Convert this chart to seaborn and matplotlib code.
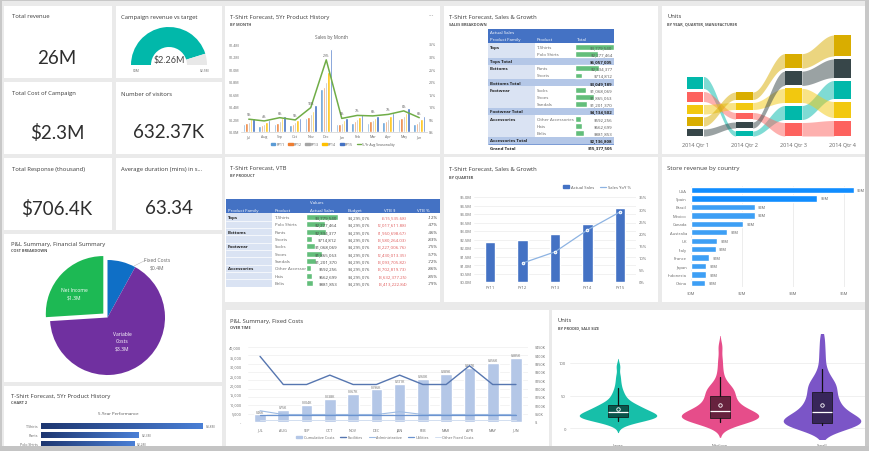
import numpy as np
import pandas as pd
import matplotlib
matplotlib.use('Agg')
import matplotlib.pyplot as plt
import seaborn as sns
from matplotlib.patches import Rectangle, Wedge, Patch
from matplotlib.lines import Line2D

# ======================= DATA =======================
kpi_titles = ['Total revenue', 'Total Cost of Campaign', 'Number of visitors',
              'Total Response (thousand)', 'Average duration (mins) in s...']
kpi_values = ['26M', '$2.3M', '632.37K', '$706.4K', '63.34']
gauge_title = 'Campaign revenue vs target'
gauge_value = 2.26
gauge_target = 2.5

pie_labels = ['Fixed Costs', 'Variable Costs', 'Net Income']
pie_values = [0.4, 3.3, 1.3]

perf_labels = ['T-Shirts', 'Pants', 'Polo Shirts']
perf_values = [3.8, 2.3, 2.2]

months = ['Jul', 'Aug', 'Sep', 'Oct', 'Nov', 'Dec', 'Jan', 'Feb', 'Mar', 'Apr', 'May', 'Jun']
fy_years = ['FY11', 'FY12', 'FY13', 'FY14', 'FY15']
sales_fy11 = [0.12, 0.10, 0.13, 0.11, 0.22, 0.68, 0.12, 0.15, 0.15, 0.16, 0.20, 0.13]
sales_fy12 = [0.14, 0.11, 0.15, 0.13, 0.24, 0.72, 0.13, 0.17, 0.17, 0.18, 0.22, 0.15]
sales_fy13 = [0.16, 0.13, 0.18, 0.16, 0.28, 0.79, 0.15, 0.20, 0.19, 0.21, 0.26, 0.17]
sales_fy14 = [0.20, 0.16, 0.22, 0.19, 0.33, 0.96, 0.19, 0.24, 0.23, 0.25, 0.30, 0.21]
sales_fy15 = [0.22, 0.19, 0.25, 0.22, 0.43, 1.32, 0.23, 0.28, 0.26, 0.30, 0.38, 0.25]
seasonality = [5.1, 4.4, 5.7, 4.8, 9.7, 28.7, 5.4, 6.6, 6.4, 7.0, 8.4, 5.7]

families = ['Tops', 'Bottoms', 'Footwear', 'Accessories']
products = [['T-Shirts', 'Polo Shirts'], ['Pants', 'Shorts'],
            ['Socks', 'Shoes', 'Sandals'], ['Other Accessories', 'Hats', 'Belts']]
actual_sales = [[3779540, 2277464], [2334377, 714812],
                [1068069, 1865063, 1201370], [592256, 662699, 881853]]
family_totals = [6057005, 3049189, 4134502, 2136808]
grand_total = 15377505

budget = 4295076
vtb_dollars = [515535.68, 2017611.88, 1960698.67, 3580264.03, 3227006.76,
               2430013.35, 3093705.82, 3702819.73, 3632377.25, 3413222.84]
vtb_pct = [-12, -47, -46, -83, -75, -57, -72, -86, -85, -79]

quarters = ['2014 Qtr 1', '2014 Qtr 2', '2014 Qtr 3', '2014 Qtr 4']
manufacturers = ['VanArsdel', 'Natura', 'Aliqui', 'Pomum', 'Fama']
units_vanarsdel = [12.0, 5.0, 14.0, 18.0]
units_natura = [10.0, 6.5, 13.5, 15.5]
units_aliqui = [9.5, 7.0, 14.1, 16.0]
units_pomum = [9.0, 7.5, 14.5, 21.0]
units_fama = [7.0, 6.0, 14.3, 18.5]

fy_labels = ['FY11', 'FY12', 'FY13', 'FY14', 'FY15']
fy_sales = [2.35, 2.47, 2.82, 3.41, 4.35]
fy_yoy = [np.nan, 7.8, 12.4, 21.4, 28.8]

countries = ['USA', 'Spain', 'Brazil', 'Mexico', 'Canada', 'Australia', 'UK',
             'Italy', 'France', 'Japan', 'Indonesia', 'China']
store_revenue = [6.4, 4.95, 2.5, 2.5, 2.05, 1.42, 1.03, 0.98, 0.72, 0.6, 0.6, 0.56]

pl_months = ['JUL', 'AUG', 'SEP', 'OCT', 'NOV', 'DEC', 'JAN', 'FEB', 'MAR', 'APR', 'MAY', 'JUN']
cumulative_costs = [46, 75, 104, 138, 167, 196, 231, 260, 289, 327, 356, 385]
facilities = [35000, 20000, 20000, 25000, 20000, 20000, 25000, 20000, 20000, 30000, 20000, 20000]
administrative = [6000, 4000, 4000, 4000, 4000, 4000, 5500, 4000, 4000, 4000, 4000, 4000]
utilities = [4000, 4000, 4000, 4000, 4000, 4000, 4000, 4000, 4000, 4000, 4000, 4000]
other_fixed = [1000, 1000, 1000, 1000, 1000, 1000, 1000, 1000, 1000, 1000, 1000, 1000]

sale_sizes = ['Large', 'Medium', 'Small']
units_large = [5, 8, 10, 11, 12, 13, 14, 14, 15, 15, 16, 16, 17, 17, 18, 18, 19, 19, 20, 20,
               21, 22, 22, 23, 24, 24, 25, 26, 27, 28, 29, 30, 31, 32, 33, 34, 35, 36, 38,
               40, 42, 45, 48, 52, 56, 62, 70, 80, 95]
units_medium = [3, 5, 8, 10, 11, 12, 13, 14, 14, 15, 15, 16, 16, 17, 18, 18, 19, 20, 21, 22,
                23, 24, 25, 26, 27, 28, 30, 32, 34, 36, 38, 40, 43, 45, 47, 50, 53, 56, 58,
                60, 62, 65, 70, 78, 90, 105, 125]
units_small = [1, 2, 3, 4, 5, 5, 6, 6, 7, 7, 8, 8, 9, 10, 11, 12, 13, 14, 15, 17, 19, 21,
               23, 25, 27, 29, 31, 34, 37, 40, 43, 45, 48, 52, 56, 60, 63, 66, 68, 70, 75,
               82, 90, 105, 120, 138]

# ======================= SETUP =======================
W, H = 869, 452
sns.set_theme(style='white')
plt.rcParams['font.family'] = ['Open Sans', 'DejaVu Sans']
plt.rcParams['axes.unicode_minus'] = False

fig = plt.figure(figsize=(W / 100, H / 100), dpi=100)
fig.patch.set_facecolor('#eaeaea')


def R(x, y, w, h):
    return [x / W, 1 - (y + h) / H, w / W, h / H]


def AX(x, y, w, h, z=1):
    ax = fig.add_axes(R(x, y, w, h), zorder=z)
    ax.patch.set_alpha(0)
    return ax


def T(x, y, s, size=4.6, color='#404040', **kw):
    kw.setdefault('va', 'center')
    kw.setdefault('zorder', 20)
    fig.text(x / W, 1 - y / H, s, fontsize=size, color=color, **kw)


def tile(x, y, w, h):
    fig.add_artist(Rectangle((x / W, 1 - (y + h) / H), w / W, h / H, transform=fig.transFigure,
                             facecolor='white', edgecolor='none', zorder=-5))


TS = 4.25


def title(x, y, s, sub=None, dy=7.5):
    T(x, y, s, TS, '#3a3a3a')
    if sub:
        T(x, y + dy, sub, 2.8, '#555555', weight='bold')


def clean(ax):
    for s in ax.spines.values():
        s.set_visible(False)
    ax.tick_params(length=0, labelsize=3.0, labelcolor='#666666', pad=1.5)
    ax.set_xlabel('')
    ax.set_ylabel('')


KPI_FONT = dict(family=['Lato', 'Open Sans', 'DejaVu Sans'], weight='normal')

# ======================= TILES =======================
tiles = [(4, 7, 108, 72), (116, 7, 106, 72), (4, 83, 108, 72), (116, 83, 106, 72),
         (4, 159, 108, 72), (116, 159, 106, 72), (4, 235, 218, 148), (4, 387, 218, 65),
         (225, 7, 215, 148), (444, 7, 214, 148), (662, 7, 203, 148),
         (225, 158, 215, 145), (444, 158, 214, 145), (662, 158, 203, 145),
         (226, 311, 323, 141), (552, 311, 313, 141)]
for t in tiles:
    tile(*t)

# ======================= KPI CARDS =======================
kpi_pos = [(12, 17, 57, 58), (12, 94, 57, 133), (121, 94, 169, 133), (12, 170, 57, 209), (121, 170, 169, 209)]
for (tx, ty, vx_, vy), t_, v_ in zip(kpi_pos, kpi_titles, kpi_values):
    T(tx, ty, t_, TS, '#3a3a3a')
    T(vx_, vy, v_, 13.5, '#2e2e2e', ha='center', **KPI_FONT)

# gauge
T(121, 17, gauge_title, TS, '#3a3a3a')
gax = AX(124, 22, 90, 50)
gax.set_xlim(-45, 45)
gax.set_ylim(-6, 44)
gax.axis('off')
ang = 180 - 180 * gauge_value / gauge_target
gax.add_patch(Wedge((0, 0), 38, ang, 180, width=20, facecolor='#01b8aa', edgecolor='none'))
gax.add_patch(Wedge((0, 0), 38, 0, ang, width=20, facecolor='#e8e8e8', edgecolor='none'))
T(169, 60, f'${gauge_value:.2f}M', 6.5, '#444444', ha='center', **KPI_FONT)
T(133, 71.5, '$0M', 2.4, '#666666')
T(200, 71.5, f'${gauge_target}M', 2.4, '#666666')

# ======================= PIE =======================
title(11, 245, 'P&L Summary, Financial Summary', 'COST BREAKDOWN', dy=6.5)
pax = AX(107.5 - 66, 318.5 - 66, 132, 132)
pax.pie(pie_values, colors=['#0f6fc6', '#7030a0', '#1db954'], startangle=90, counterclock=False,
        explode=[0, 0, 0.1], radius=1, wedgeprops=dict(linewidth=0))
pax.set_xlim(-66 / 57.5, 66 / 57.5)
pax.set_ylim(-66 / 57.5, 66 / 57.5)
T(74, 291, 'Net Income', 3.6, 'white', ha='center')
T(74, 298, f'${pie_values[2]}M', 3.6, 'white', ha='center')
T(122, 335, 'Variable', 3.6, 'white', ha='center')
T(122, 342, 'Costs', 3.6, 'white', ha='center')
T(122, 349, f'${pie_values[1]}M', 3.6, 'white', ha='center')
T(157, 261, 'Fixed Costs', 3.6, '#666666', ha='center')
T(157, 268, f'${pie_values[0]}M', 3.6, '#666666', ha='center')
fig.add_artist(Line2D([134 / W, 146 / W], [1 - 267 / H, 1 - 261 / H], color='#bbbbbb', lw=0.4))

# ======================= 5-YEAR PERFORMANCE =======================
title(11, 397, 'T-Shirt Forecast, 5Yr Product History', 'CHART 2', dy=6.5)
T(118, 414, '5-Year Performance', 3.2, '#555555', ha='center')
bax = AX(41, 422.5, 174, 27)
sns.barplot(x=perf_values, y=perf_labels, orient='h', color='#2b4f9e', width=0.6, saturation=1, ax=bax)
clean(bax)
bax.set_xticks([])
bax.tick_params(axis='y', labelsize=2.6, pad=2)
grad = np.linspace(0, 1, 256).reshape(1, -1)
cmap = matplotlib.colors.LinearSegmentedColormap.from_list('g', ['#1d3670', '#4a7fd6'])
for p, v in zip(bax.patches, perf_values):
    x0, y0 = p.get_x(), p.get_y()
    w, h = p.get_width(), p.get_height()
    im = bax.imshow(grad, extent=[x0, x0 + w, y0 + h, y0], cmap=cmap, aspect='auto', zorder=3)
    im.set_clip_path(p)
    p.set_facecolor('none')
    bax.text(x0 + w + 0.06, y0 + h / 2, f'${v}M', fontsize=2.4, color='#666666', va='center')
bax.set_xlim(0, 174 / 42.6)
bax.set_ylim(2.5, -0.5)

# ======================= SALES BY MONTH =======================
title(230, 18, 'T-Shirt Forecast, 5Yr Product History', 'BY MONTH')
T(431, 17, '···', 5, '#999999', ha='center')
T(332, 38, 'Sales by Month', 3.3, '#555555', ha='center')
fy_colors = ['#5b9bd5', '#ed7d31', '#a5a5a5', '#ffc000', '#4472c4']
df_m = pd.DataFrame({'month': months * 5, 'year': np.repeat(fy_years, 12),
                     'sales': sales_fy11 + sales_fy12 + sales_fy13 + sales_fy14 + sales_fy15})
mx = AX(241, 45, 186, 88)
sns.barplot(data=df_m, x='month', y='sales', hue='year', order=months, hue_order=fy_years,
            palette=fy_colors, width=0.75, gap=0, saturation=1, legend=False, ax=mx, errorbar=None)
mx.set_ylim(0, 1.4)
mx.set_xlim(-0.5, 11.5)
mx.set_yticks(np.arange(0, 1.41, 0.2))
mx.set_yticklabels([f'${v:.1f}M' for v in np.arange(0, 1.41, 0.2)])
clean(mx)
mx.tick_params(labelsize=2.6)
mx.spines['bottom'].set_visible(True)
mx.spines['bottom'].set_color('#d0d0d0')
mx.spines['bottom'].set_linewidth(0.5)
mx2 = mx.twinx()
sns.lineplot(x=np.arange(12), y=seasonality, color='#70ad47', lw=1.1, ax=mx2)
mx2.set_ylim(0, 35)
mx2.set_yticks(np.arange(0, 36, 5))
mx2.set_yticklabels([f'{v}%' for v in range(0, 36, 5)])
clean(mx2)
mx2.tick_params(labelsize=2.6)
mx2.set_xlim(-0.5, 11.5)
for i, v in enumerate(seasonality):
    mx2.text(i, v + 1.2, f'{v:.0f}%', fontsize=2.4, color='#555555', ha='center', va='bottom')
handles = [Patch(color=c, label=l) for c, l in zip(fy_colors, fy_years)]
handles.append(Line2D([0], [0], color='#70ad47', lw=1, label='5-Yr Avg Seasonality'))
fig.legend(handles=handles, loc='center', bbox_to_anchor=(333 / W, 1 - 145.5 / H), ncol=6, frameon=False,
           fontsize=2.5, handlelength=1.2, handleheight=0.6, columnspacing=1.0, handletextpad=0.4,
           labelcolor='#555555')

# ======================= SALES BREAKDOWN TABLE =======================
title(449, 17, 'T-Shirt Forecast, Sales & Growth', 'SALES BREAKDOWN')
HDR = '#4472c4'
LAV = '#dae3f3'
SUB = '#b4c7e7'
FS = 3.2
tab = AX(488, 29.7, 126, 122.4, z=2)
tab.set_xlim(488, 614)
tab.set_ylim(16.5, -0.5)
tab.axis('off')
tbar = AX(575, 29.7, 38.5, 122.4, z=3)
tbar.set_xlim(0, max(max(a) for a in actual_sales))
tbar.set_ylim(16.5, -0.5)
tbar.axis('off')
tab.add_patch(Rectangle((488, -0.5), 126, 2, facecolor=HDR, edgecolor='none'))
tab.text(490, 0, 'Actual Sales', fontsize=FS, color='white', va='center')
tab.text(490, 1, 'Product Family', fontsize=FS, color='white', va='center')
tab.text(537, 1, 'Product', fontsize=FS, color='white', va='center')
tab.text(577, 1, 'Total', fontsize=FS, color='white', va='center')
r = 2
for fam, prods, vals, tot in zip(families, products, actual_sales, family_totals):
    n = len(prods)
    tab.add_patch(Rectangle((488, r - 0.5), 47, n, facecolor=LAV, edgecolor='none'))
    tab.text(490, r, fam, fontsize=FS, color='#222222', va='center', weight='bold')
    for k, (p, v) in enumerate(zip(prods, vals)):
        tab.text(537, r + k, p, fontsize=FS, color='#666666', va='center')
        tbar.barh(r + k, v, height=0.82, color='#63be7b', left=0)
        tbar.text(612.5, r + k, f'${v:,.0f}', fontsize=FS, color='#555555', va='center', ha='right',
                  transform=tab.transData)
    r += n
    tab.add_patch(Rectangle((488, r - 0.5), 126, 1, facecolor=SUB, edgecolor='none'))
    tab.text(490, r, f'{fam} Total', fontsize=FS, color='#222222', va='center', weight='bold')
    tab.text(612.5, r, f'${tot:,.0f}', fontsize=FS, color='#222222', va='center', ha='right', weight='bold')
    r += 1
tab.text(490, r, 'Grand Total', fontsize=FS, color='#222222', va='center', weight='bold')
tab.text(612.5, r, f'${grand_total:,.0f}', fontsize=FS, color='#222222', va='center', ha='right', weight='bold')
tab.plot([488, 614], [r - 0.5, r - 0.5], color=HDR, lw=0.5)
tab.plot([488, 614], [r + 0.45, r + 0.45], color='#444444', lw=0.4)

# ======================= SANKEY UNITS =======================
title(667, 17, 'Units', 'BY YEAR, QUARTER, MANUFACTURER')
sk_colors = ['#01b8aa', '#fd625e', '#f2c80f', '#d9ad00', '#374649']
sk_units = [units_vanarsdel, units_natura, units_aliqui, units_pomum, units_fama]
sx = AX(663, 30, 202, 107)
sx.set_xlim(-(695 - 663) / 49.2, 3 + (865 - 842.5) / 49.2)
sx.set_ylim(0, 107)
sx.axis('off')
GAP = 3.0
NW = 0.345
pos = []
for q in range(4):
    vals = [sk_units[m][q] for m in range(5)]
    order = np.argsort(vals)
    d = {}
    y = 0.0
    for m in order:
        d[m] = (y, y + vals[m])
        y += vals[m] + GAP
    pos.append(d)
tt = np.linspace(0, 1, 60)
ss = (1 - np.cos(np.pi * tt)) / 2
for m in range(5):
    for q in range(3):
        xa, xb = q + NW / 2, q + 1 - NW / 2
        b0, t0 = pos[q][m]
        b1, t1 = pos[q + 1][m]
        xs = xa + (xb - xa) * tt
        sx.fill_between(xs, b0 + (b1 - b0) * ss, t0 + (t1 - t0) * ss, color=sk_colors[m], alpha=0.5,
                        linewidth=0)
for q in range(4):
    for m in range(5):
        b, t = pos[q][m]
        sx.add_patch(Rectangle((q - NW / 2, b), NW, t - b, facecolor=sk_colors[m], edgecolor='none', zorder=3))
for q, lab in enumerate(quarters):
    T(695 + 49.2 * q, 145, lab, 4.0, '#666666', ha='center')

# ======================= VTB TABLE =======================
title(230, 168, 'T-Shirt Forecast, VTB', 'BY PRODUCT', dy=8.5)
vt = AX(226, 199.6, 214, 88.2, z=2)
vt.set_xlim(226, 440)
vt.set_ylim(11.5, -0.5)
vt.axis('off')
vb = AX(306, 199.6, 32, 88.2, z=3)
vb.set_xlim(0, max(max(a) for a in actual_sales))
vb.set_ylim(11.5, -0.5)
vb.axis('off')
vt.add_patch(Rectangle((226, -0.5), 214, 2, facecolor=HDR, edgecolor='none'))
vt.text(317, 0, 'Values', fontsize=FS, color='white', va='center', ha='center')
for x_, s_, ha_ in [(228, 'Product Family', 'left'), (275, 'Product', 'left'), (322, 'Actual Sales', 'center'),
                    (348, 'Budget', 'left'), (390, 'VTB $', 'center'), (423, 'VTB %', 'center')]:
    vt.text(x_, 1, s_, fontsize=FS, color='white', va='center', ha=ha_)
vt.add_patch(Rectangle((226, 1.5), 46, 10, facecolor=LAV, edgecolor='none'))
for i in range(2, 11):
    vt.plot([226, 272], [i + 0.5, i + 0.5], color='white', lw=0.5)
r = 2
k = 0
for fam, prods, vals in zip(families, products, actual_sales):
    vt.text(228, r, fam, fontsize=FS, color='#222222', va='center', weight='bold')
    for p, v in zip(prods, vals):
        vt.text(275, r, p, fontsize=FS, color='#666666', va='center')
        vb.barh(r, v, height=0.82, color='#63be7b')
        vb.text(337, r, f'${v:,.0f}', fontsize=FS, color='#444444', va='center', ha='right',
                transform=vt.transData)
        vt.text(348, r, f'${budget:,.0f}', fontsize=FS, color='#555555', va='center')
        vt.text(407, r, f'({vtb_dollars[k]:,.2f})', fontsize=FS, color='#e05a5a', va='center', ha='right')
        vt.text(438, r, f'{vtb_pct[k]}%', fontsize=FS, color='#444444', va='center', ha='right')
        r += 1
        k += 1

# ======================= FY BAR + YOY =======================
title(449, 169, 'T-Shirt Forecast, Sales & Growth', 'BY QUARTER', dy=8)
fx = AX(474, 198, 162, 85)
sns.barplot(x=fy_labels, y=fy_sales, color='#4472c4', width=0.32, saturation=1, ax=fx)
fx.set_ylim(0, 5)
fx.set_xlim(-0.5, 4.5)
fx.set_yticks(np.arange(0, 5.01, 0.5))
fx.set_yticklabels([f'${v:.1f}M' for v in np.arange(0, 5.01, 0.5)])
clean(fx)
fx.tick_params(labelsize=3.0, pad=2)
fx.grid(axis='y', color='#ececec', lw=0.5)
fx.set_axisbelow(True)
fx2 = fx.twinx()
sns.lineplot(x=np.arange(5), y=fy_yoy, color='#8db3e2', lw=0.9, marker='o', markersize=1.8,
             markeredgecolor='white', markerfacecolor='#8db3e2', ax=fx2)
fx2.set_ylim(0, 35)
fx2.set_xlim(-0.5, 4.5)
fx2.set_yticks(np.arange(0, 36, 5))
fx2.set_yticklabels([f'{v}%' for v in range(0, 36, 5)])
clean(fx2)
fx2.tick_params(labelsize=3.0, pad=2)
fig.legend(handles=[Patch(color='#4472c4', label='Actual Sales'),
                    Line2D([0], [0], color='#8db3e2', lw=0.9, label='Sales YoY %')],
           loc='center', bbox_to_anchor=(597 / W, 1 - 188 / H), ncol=2, frameon=False, fontsize=3.0,
           handlelength=1.4, handleheight=0.6, columnspacing=1.6, handletextpad=0.4, labelcolor='#555555')

# ======================= STORE REVENUE =======================
T(667, 169, 'Store revenue by country', 4.4, '#3a3a3a')
store_colors = ['#118dff' if v >= 4 else '#3d9ff5' for v in store_revenue]
stx = AX(691, 186.8, 169, 101.4)
sns.barplot(x=store_revenue, y=countries, hue=countries, palette=store_colors, orient='h', width=0.75,
            saturation=1, legend=False, ax=stx)
stx.set_xlim(0, 169 / 25.5)
stx.set_ylim(11.5, -0.5)
clean(stx)
stx.set_xticks([0, 2, 4, 6])
stx.set_xticklabels(['$0M', '$2M', '$4M', '$6M'])
stx.tick_params(labelsize=3.0, pad=3)
stx.grid(axis='x', color='#e6e6e6', lw=0.5)
stx.set_axisbelow(True)
for i, v in enumerate(store_revenue):
    stx.text(v + 0.12, i, f'${v:.0f}M', fontsize=2.8, color='#555555', va='center', clip_on=False)

# ======================= P&L FIXED COSTS =======================
title(230, 321, 'P&L Summary, Fixed Costs', 'OVER TIME', dy=7)
plb = AX(248.4, 348, 279.2, 75)
sns.barplot(x=pl_months, y=cumulative_costs, color='#b4c7e7', width=0.5, saturation=1, ax=plb)
plb.set_ylim(0, 450)
plb.set_xlim(-0.5, 11.5)
clean(plb)
plb.grid(axis='y', color='#eeeeee', lw=0.5)
plb.set_axisbelow(True)
for i, v in enumerate(cumulative_costs):
    plb.text(i, v + 4, f'${v}K', fontsize=2.5, color='#666666', ha='center', va='bottom')
pll = plb.twinx()
line_specs = [(facilities, '#5676b0', 1.0, 'Facilities'), (administrative, '#9dbbe3', 0.8, 'Administrative'),
              (utilities, '#6b93cf', 0.9, 'Utilities'), (other_fixed, '#d2def0', 0.7, 'Other Fixed Costs')]
for vals, c, lw, lab in line_specs:
    sns.lineplot(x=np.arange(12), y=vals, color=c, lw=lw, ax=pll)
pll.set_ylim(0, 40000)
pll.set_xlim(-0.5, 11.5)
clean(pll)
plb.yaxis.tick_right()
plb.set_yticks(np.arange(0, 451, 50))
plb.set_yticklabels(['$-'] + [f'${v}K' for v in range(50, 451, 50)])
plb.tick_params(axis='y', labelsize=2.7, pad=5, length=0, labelcolor='#666666')
pll.yaxis.tick_left()
pll.set_yticks(np.arange(0, 40001, 5000))
pll.set_yticklabels(['-'] + [f'{v:,}' for v in range(5000, 40001, 5000)])
pll.tick_params(axis='y', labelsize=2.7, pad=5, length=0, labelcolor='#666666')
plb.tick_params(axis='x', labelsize=2.7, pad=4)
leg_h = [Patch(color='#b4c7e7', label='Cumulative Costs')] + \
        [Line2D([0], [0], color=c, lw=lw, label=lab) for _, c, lw, lab in line_specs]
fig.legend(handles=leg_h, loc='center', bbox_to_anchor=(385 / W, 1 - 438.5 / H), ncol=5, frameon=False,
           fontsize=2.7, handlelength=1.6, handleheight=0.6, columnspacing=1.6, handletextpad=0.4,
           labelcolor='#666666')

# ======================= VIOLIN UNITS =======================
title(558, 321, 'Units', 'BY PRODID, SALE SIZE', dy=7)
df_v = pd.DataFrame({'size': ['Large'] * len(units_large) + ['Medium'] * len(units_medium) +
                     ['Small'] * len(units_small),
                     'units': units_large + units_medium + units_small})
vx = AX(570, 335, 295, 105)
for yy in (0, 50, 100):
    vx.axhline(yy, color='#eeeeee', lw=0.6, zorder=0)
sns.violinplot(data=df_v, x='size', y='units', hue='size', order=sale_sizes, hue_order=sale_sizes,
               palette=['#17bfa9', '#e64d8a', '#7b55c7'], inner=None, linewidth=0, density_norm='width',
               width=0.76, saturation=1, legend=False, bw_adjust=0.7, cut=2, ax=vx)
for i, d in enumerate([units_large, units_medium, units_small]):
    vx.boxplot(d, positions=[i], widths=0.2, patch_artist=True, showmeans=True, whis=(5, 95),
               showfliers=False, manage_ticks=False,
               boxprops=dict(facecolor=(0, 0, 0, 0.55), edgecolor='#111111', linewidth=0.5),
               medianprops=dict(color='white', lw=0.9),
               meanprops=dict(marker='o', markerfacecolor='none', markeredgecolor='white', markersize=2.5,
                              markeredgewidth=0.6),
               whiskerprops=dict(color='#111111', lw=0.9), capprops=dict(visible=False))
vx.set_ylim(-16.9, 144.6)
vx.set_xlim((570 - 618) / 102, (865 - 618) / 102)
clean(vx)
vx.set_yticks([0, 50, 100])
vx.tick_params(labelsize=3.0, pad=3)

# ======================= FRAME =======================
for (x, y, w, h, c) in [(0, 0, W, 2, '#c8c8c8'), (0, 0, 2, H, '#c8c8c8'),
                        (865, 0, 4, H, '#c8c8c8'), (0, 447, W, 5, '#c4c4c4')]:
    fig.add_artist(Rectangle((x / W, 1 - (y + h) / H), w / W, h / H, transform=fig.transFigure,
                             facecolor=c, edgecolor='none', zorder=50))

fig.savefig('out.png', dpi=100, facecolor=fig.get_facecolor())
